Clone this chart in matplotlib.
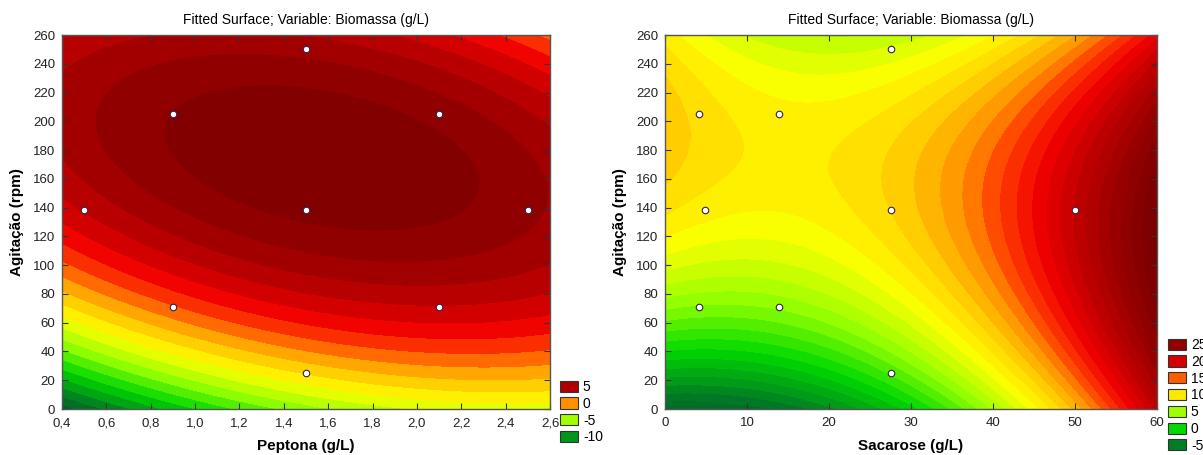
import numpy as np
import matplotlib.pyplot as plt
from matplotlib.colors import LinearSegmentedColormap, Normalize
from matplotlib.patches import Patch

plt.rcParams['font.family'] = ['Liberation Sans', 'DejaVu Sans']

# ----------------------------
# Design points (experiments)
# ----------------------------
pep_x = [0.5, 0.9, 0.9, 1.5, 1.5, 1.5, 2.1, 2.1, 2.5]
pep_y = [138, 71, 205, 25, 138, 250, 71, 205, 138]

sac_x = [4.1, 13.9, 4.9, 27.5, 27.5, 27.5, 4.1, 13.9, 50.0]
sac_y = [205, 205, 138, 250, 138, 25, 71, 71, 138]

# fitted quadratic models in coded units:
# z = b0 + b1*u + b2*v + b11*u^2 + b22*v^2 + b12*u*v
# u = (x - x_center) / x_half, v = (agit - 130) / 130
pep_center, pep_half = 1.5, 1.1
pep_coef = [7.0, 1.4, 5.2, -2.6, -7.3, -3.1]
pep_range = (-13, 8)

sac_center, sac_half = 30.0, 30.0
sac_coef = [11.5, 9.3, 3.5, 7.5, -8.5, -4.8]
sac_range = (-9, 28)

agit_center, agit_half = 130.0, 130.0

pep_legend = [5, 0, -5, -10]
sac_legend = [25, 20, 15, 10, 5, 0, -5]

pep_ticks = [0.4, 0.6, 0.8, 1.0, 1.2, 1.4, 1.6, 1.8, 2.0, 2.2, 2.4, 2.6]
sac_ticks = [0, 10, 20, 30, 40, 50, 60]
agit_ticks = list(range(0, 261, 20))

cmap = LinearSegmentedColormap.from_list("stat", [
    (0.00, "#00552a"),
    (0.10, "#007a25"),
    (0.24, "#00d800"),
    (0.36, "#90ff00"),
    (0.48, "#ffff00"),
    (0.56, "#ffc800"),
    (0.62, "#ff9000"),
    (0.67, "#ff4000"),
    (0.74, "#f00000"),
    (0.82, "#c00000"),
    (0.90, "#9a0000"),
    (1.00, "#7a0000"),
])


def surface(coef, xc, xh, X, Y):
    u = (X - xc) / xh
    v = (Y - agit_center) / agit_half
    b0, b1, b2, b11, b22, b12 = coef
    return b0 + b1 * u + b2 * v + b11 * u ** 2 + b22 * v ** 2 + b12 * u * v


fig = plt.figure(figsize=(12.03, 4.55), dpi=100)
W, H = 1203, 455

panels = [
    dict(left=62, right=550, coef=pep_coef, xc=pep_center, xh=pep_half,
         xlim=(0.4, 2.6), ticks=pep_ticks, px=pep_x, py=pep_y, crange=pep_range,
         xlabel="Peptona (g/L)", leg=pep_legend, legx=560, legtop=380,
         fmt=lambda t: f"{t:.1f}".replace(".", ",")),
    dict(left=665, right=1157, coef=sac_coef, xc=sac_center, xh=sac_half,
         xlim=(0, 60), ticks=sac_ticks, px=sac_x, py=sac_y, crange=sac_range,
         xlabel="Sacarose (g/L)", leg=sac_legend, legx=1168, legtop=338,
         fmt=lambda t: f"{t:d}"),
]

for p in panels:
    ax = fig.add_axes([p["left"] / W, 1 - 409 / H,
                       (p["right"] - p["left"]) / W, (409 - 35) / H])
    xs = np.linspace(p["xlim"][0], p["xlim"][1], 300)
    ys = np.linspace(0, 260, 300)
    X, Y = np.meshgrid(xs, ys)
    Z = surface(p["coef"], p["xc"], p["xh"], X, Y)
    levels = np.arange(np.floor(Z.min()), np.ceil(Z.max()) + 1, 1.0)
    norm = Normalize(vmin=p["crange"][0], vmax=p["crange"][1], clip=True)
    cs = ax.contourf(X, Y, Z, levels=levels, cmap=cmap, norm=norm)
    cs.set_edgecolor("face")
    cs.set_linewidth(0.6)
    ax.scatter(p["px"], p["py"], s=22, facecolor="white", edgecolor="#302050",
               linewidth=0.8, zorder=5)

    ax.set_xlim(p["xlim"])
    ax.set_ylim(0, 260)
    ax.set_xticks(p["ticks"])
    ax.set_xticklabels([p["fmt"](t) for t in p["ticks"]])
    ax.set_yticks(agit_ticks)
    ax.tick_params(direction="in", top=True, right=True, labelsize=9.5,
                   length=4, width=0.8, colors="#333333", labelcolor="#222222")
    ax.tick_params(axis="x", pad=6)
    ax.tick_params(axis="y", pad=5)
    for s in ax.spines.values():
        s.set_color("#555555")
        s.set_linewidth(1.0)
    ax.set_xlabel(p["xlabel"], fontsize=11, fontweight="bold", labelpad=7)
    ax.set_ylabel("Agitação (rpm)", fontsize=11, fontweight="bold", labelpad=6)
    ax.set_title("Fitted Surface; Variable: Biomassa (g/L)", fontsize=10, pad=8)

    handles = [Patch(facecolor=cmap(norm(v)), edgecolor="#333333", linewidth=0.8,
                     label=str(v)) for v in p["leg"]]
    fig.legend(handles=handles, loc="upper left",
               bbox_to_anchor=(p["legx"] / W, 1 - p["legtop"] / H),
               frameon=False, fontsize=10, borderpad=0, borderaxespad=0,
               handlelength=1.3, handleheight=0.85, labelspacing=0.2,
               handletextpad=0.35)

fig.savefig("out.png", dpi=100)
